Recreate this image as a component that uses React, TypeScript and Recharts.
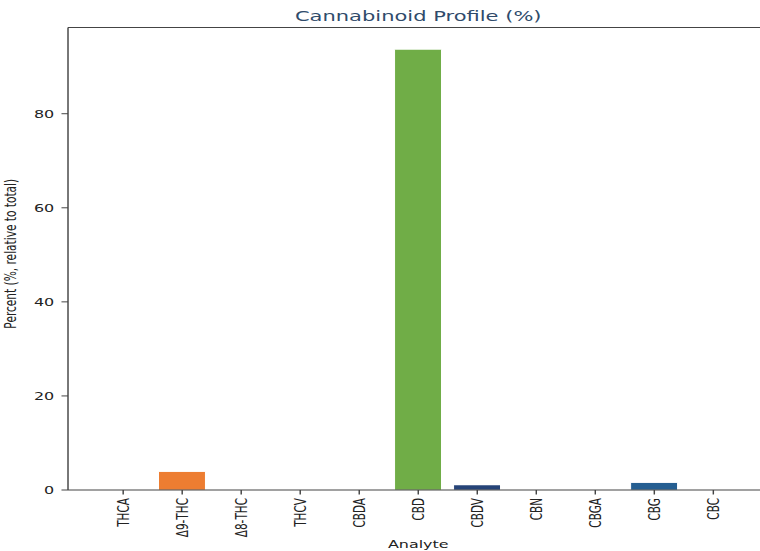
import React from 'react';
import { BarChart, Bar, XAxis, YAxis, Cell, ReferenceLine } from 'recharts';

// values
const analytes = ['THCA', 'Δ9-THC', 'Δ8-THC', 'THCV', 'CBDA', 'CBD', 'CBDV', 'CBN', 'CBGA', 'CBG', 'CBC'];
const percents = [0, 3.9, 0, 0, 0, 93.65, 1.06, 0, 0, 1.55, 0];
const barColors = ['#4472C4', '#ED7D31', '#A5A5A5', '#FFC000', '#5B9BD5', '#70AD47', '#264478', '#9E480E', '#636363', '#255E91', '#997300'];
const yTicks = [0, 20, 40, 60, 80];
const yMax = 98.33;

const data = analytes.map((name, i) => ({ name, value: percents[i] }));

// the reference image is stretched horizontally; draw narrow and scale
const SX = 1.45;
const FONT = '"DejaVu Sans", sans-serif';
const AXIS = '#444';

const XTick = ({ x, y, payload }: any) => (
  <text
    x={x}
    y={y}
    dy="0.36em"
    transform={`rotate(-90 ${x} ${y})`}
    textAnchor="end"
    fontSize={10.5}
    fontFamily={FONT}
    fill="#222"
  >
    {payload.value}
  </text>
);

const YLabel = ({ viewBox }: any) => {
  const cx = viewBox.x + 0.6;
  const cy = viewBox.y + viewBox.height / 2 - 5;
  return (
    <text
      x={cx}
      y={cy}
      dy="0.36em"
      transform={`rotate(-90 ${cx} ${cy})`}
      textAnchor="middle"
      fontSize={10.6}
      fontFamily={FONT}
      fill="#222"
    >
      Percent (%, relative to total)
    </text>
  );
};

function YLabelWrap(props: any) {
  return <YLabel {...props} />;
}

export default function App() {
  return (
    <div style={{ position: 'fixed', left: 0, top: 0, width: 760, height: 551, overflow: 'hidden', background: '#fff' }}>
      <div style={{ width: 560, height: 551, transform: `scaleX(${SX})`, transformOrigin: '0 0' }}>
        <BarChart width={560} height={551} data={data} margin={{ top: 27.5, right: 30, left: 6.9, bottom: 3 }}>
          <XAxis
            dataKey="name"
            interval={0}
            padding={{ left: 17.7, right: 17.7 }}
            height={58}
            tick={<XTick />}
            tickSize={4.5}
            tickMargin={3.5}
            stroke={AXIS}
            label={{ value: 'Analyte', position: 'insideBottom', offset: 0, fontSize: 11, fontFamily: FONT, fill: '#222' }}
          />
          <YAxis
            domain={[0, yMax]}
            ticks={yTicks}
            width={40}
            tickSize={4.5}
            tickMargin={5}
            stroke={AXIS}
            tick={{ fontSize: 11, fontFamily: FONT, fill: '#222' }}
            label={<YLabelWrap />}
          />
          <ReferenceLine
            y={yMax}
            stroke={AXIS}
            label={{ value: 'Cannabinoid Profile (%)', position: 'top', offset: 6.8, fontSize: 14.5, fontFamily: FONT, fill: '#2f4b6b' }}
          />
          <Bar dataKey="value" barSize={32.4} stroke="#fff" strokeWidth={0.7} isAnimationActive={false}>
            {data.map((d, i) => (
              <Cell key={d.name} fill={barColors[i]} />
            ))}
          </Bar>
        </BarChart>
      </div>
    </div>
  );
}
